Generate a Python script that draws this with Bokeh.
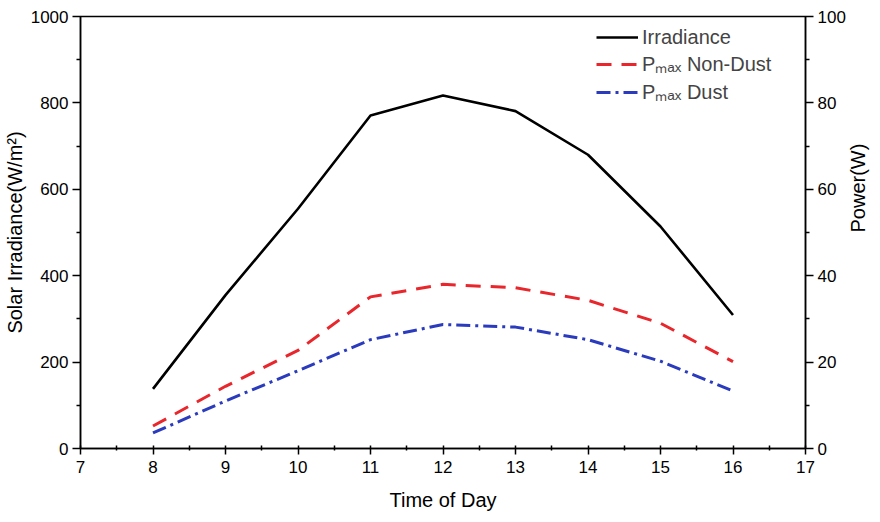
import math
from bokeh.plotting import figure
from bokeh.models import LinearAxis, Range1d, Legend, LegendItem, FixedTicker
from bokeh.embed import file_html
from bokeh.resources import INLINE

hours = [8, 9, 10, 11, 12, 13, 14, 15, 16]
irradiance = [138, 355, 555, 771, 817, 781, 680, 514, 309]
pmax_non_dust = [5.2, 14.4, 22.7, 35.1, 38.0, 37.2, 34.3, 29.0, 20.1]
pmax_dust = [3.6, 11.0, 18.0, 25.2, 28.7, 28.1, 25.2, 20.2, 13.3]

x_ticks = [7, 8, 9, 10, 11, 12, 13, 14, 15, 16, 17]
y_left_ticks = [0, 200, 400, 600, 800, 1000]
y_right_ticks = [0, 20, 40, 60, 80, 100]

FONT = "Liberation Sans"

p = figure(frame_width=725, frame_height=432, output_backend="svg", toolbar_location=None,
           x_range=Range1d(7, 17), y_range=Range1d(0, 1000),
           min_border_left=73, min_border_right=60, min_border_top=16, min_border_bottom=60)
p.extra_y_ranges = {"power": Range1d(0, 100)}

p.grid.visible = False
p.outline_line_color = "black"
p.outline_line_width = 1.5
p.background_fill_color = "white"
p.border_fill_color = "white"

r1 = p.line(hours, irradiance, line_color="black", line_width=2.6)
r2 = p.line(hours, pmax_non_dust, y_range_name="power", line_color="#e8262b",
            line_width=3, line_dash="15 10")
r3 = p.line(hours, pmax_dust, y_range_name="power", line_color="#2a3bbd",
            line_width=3, line_dash="14 5 3 5")

def style_axis(ax, label_size="17px"):
    ax.axis_line_color = "black"
    ax.axis_line_width = 1.5
    ax.major_tick_line_color = "black"
    ax.major_tick_line_width = 1.5
    ax.minor_tick_line_color = "black"
    ax.minor_tick_line_width = 1.5
    ax.major_label_text_font = FONT
    ax.major_label_text_font_size = label_size
    ax.major_label_text_color = "black"
    ax.axis_label_text_font = FONT
    ax.axis_label_text_font_size = "20px"
    ax.axis_label_text_font_style = "normal"
    ax.axis_label_text_color = "black"

xa = p.xaxis[0]
xa.ticker = FixedTicker(ticks=x_ticks, minor_ticks=[t + 0.5 for t in x_ticks[:-1]])
xa.axis_label = "Time of Day"
style_axis(xa)
xa.major_tick_out = 6
xa.major_tick_in = 3
xa.minor_tick_out = 2
xa.minor_tick_in = 3
xa.major_label_standoff = 6
xa.axis_label_standoff = 13

ya = p.yaxis[0]
ya.ticker = FixedTicker(ticks=y_left_ticks, minor_ticks=[t + 100 for t in y_left_ticks[:-1]])
ya.axis_label = "Solar Irradiance(W/m²)"
style_axis(ya)
ya.major_tick_out = 8
ya.major_tick_in = 0
ya.minor_tick_out = 4
ya.minor_tick_in = 0
ya.major_label_standoff = 4
ya.axis_label_standoff = 2

yr = LinearAxis(y_range_name="power", axis_label="Power(W)")
yr.ticker = FixedTicker(ticks=y_right_ticks, minor_ticks=[t + 10 for t in y_right_ticks[:-1]])
style_axis(yr)
yr.major_tick_out = 8
yr.major_tick_in = 0
yr.minor_tick_out = 4
yr.minor_tick_in = 0
yr.major_label_standoff = 4
yr.axis_label_standoff = 9
yr.axis_label_orientation = math.pi / 2
p.add_layout(yr, "right")

legend = Legend(items=[
    LegendItem(label="Irradiance", renderers=[r1]),
    LegendItem(label="Pₘₐₓ Non-Dust", renderers=[r2]),
    LegendItem(label="Pₘₐₓ Dust", renderers=[r3]),
], location=(516, 343))
legend.border_line_color = None
legend.background_fill_alpha = 0
legend.label_text_font = FONT
legend.label_text_font_size = "20px"
legend.glyph_width = 42
legend.glyph_height = 24
legend.spacing = 1
legend.label_standoff = 4
legend.margin = 0
legend.padding = 2
p.add_layout(legend)

open("out.html", "w").write(file_html(p, INLINE))
